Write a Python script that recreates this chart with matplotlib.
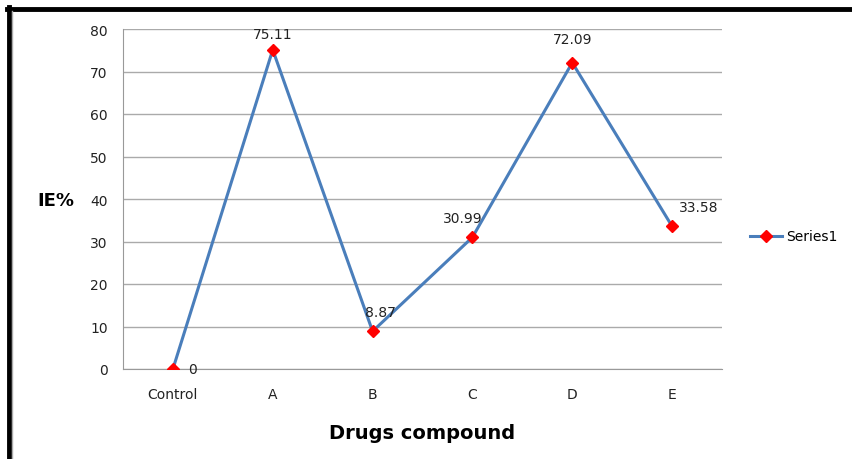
import numpy as np
import matplotlib.pyplot as plt
from matplotlib.lines import Line2D

# Daten
categories = ["Control", "A", "B", "C", "D", "E"]
ie_values = [0, 75.11, 8.87, 30.99, 72.09, 33.58]
label_offsets = [(14, 0), (0, 11.5), (6, 14), (-7, 14), (0, 17), (19, 14)]

fig = plt.figure(figsize=(8.53, 4.6), dpi=100)
ax = fig.add_axes([123/853, 90/460, 599/853, 340/460])

x = np.arange(len(categories))
ax.plot(x, ie_values, color="#4a7ebb", linewidth=2.2, marker="D",
        markersize=6, markerfacecolor="red", markeredgecolor="red",
        label="Series1", zorder=3)

for xi, v, off in zip(x, ie_values, label_offsets):
    ax.annotate(f"{v:g}", (xi, v), xytext=off, textcoords="offset points",
                ha="center", va="center", fontsize=10, color="#222222")

ax.set_xlim(-0.5, 5.5)
ax.set_ylim(0, 80)
ax.set_yticks(range(0, 81, 10))
ax.set_xticks(x)
ax.set_xticklabels(categories)
ax.tick_params(axis="both", length=0, labelsize=10, colors="#222222")
ax.tick_params(axis="x", pad=13)
ax.tick_params(axis="y", pad=11)
ax.yaxis.grid(True, color="#aaaaaa", linewidth=1)
ax.set_axisbelow(True)
for s in ["top", "right"]:
    ax.spines[s].set_visible(False)
for s in ["left", "bottom"]:
    ax.spines[s].set_color("#999999")

ax.set_xlabel("Drugs compound", fontsize=14, fontweight="bold", labelpad=16)
ax.set_ylabel("IE%", fontsize=13, fontweight="bold", rotation=0)
ax.yaxis.set_label_coords(-0.112, 0.47)

ax.legend(loc="center left", bbox_to_anchor=(1.035, 0.39), frameon=False,
          fontsize=10, handlelength=2.3, handletextpad=0.3, borderpad=0)

# Rahmen links/oben
fig.add_artist(Line2D([9/853, 9/853], [0, 1 - 8/460], color="black", linewidth=3.5,
                      transform=fig.transFigure))
fig.add_artist(Line2D([7/853, 1], [1 - 10/460, 1 - 10/460], color="black", linewidth=3.5,
                      transform=fig.transFigure))
fig.add_artist(Line2D([12.5/853, 12.5/853], [0, 1 - 12/460], color="#aaaaaa", linewidth=1,
                      transform=fig.transFigure))

fig.savefig("out.png", dpi=100)
